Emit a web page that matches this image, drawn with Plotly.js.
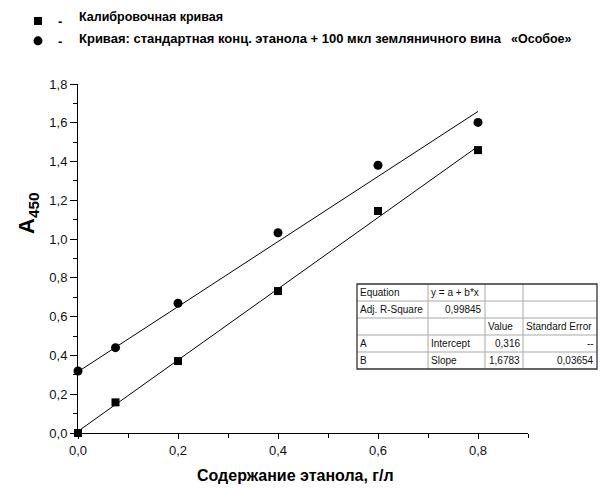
<!DOCTYPE html>
<html>
<head>
<meta charset="utf-8">
<script src="https://cdn.plot.ly/plotly-3.0.1.min.js"></script>
<style>html,body{margin:0;padding:0;background:#fff;}#chart{width:602px;height:488px;}</style>
</head>
<body>
<div id="chart"></div>
<script>
// ---- data ----
const calibX = [0, 0.075, 0.2, 0.4, 0.6, 0.8];
const calibY = [0.0, 0.158, 0.371, 0.732, 1.145, 1.459];
const wineX = [0, 0.075, 0.2, 0.4, 0.6, 0.8];
const wineY = [0.320, 0.440, 0.669, 1.033, 1.381, 1.602];
const wineIntercept = 0.316;
const wineSlope = 1.6783;
const legendNames = ["Калибровочная кривая", "Кривая: стандартная конц. этанола + 100 мкл земляничного вина"];
const legendSuffix = "«Особое»";
const xTitle = "Содержание этанола, г/л";
const yTitle = "A<sub>450</sub>";
const tableRows = [
  ["Equation", "y = a + b*x", "", ""],
  ["Adj. R-Square", "0,99845", "", ""],
  ["", "", "Value", "Standard Error"],
  ["A", "Intercept", "0,316", "--"],
  ["B", "Slope", "1,6783", "0,03654"]
];

// ---- layout geometry ----
const W = 602, H = 488, ML = 78, MR = 74, MT = 84, MB = 55;
const PW = W - ML - MR, PH = H - MT - MB;
const px = p => (p - ML) / PW;
const py = p => (H - MB - p) / PH;
const FONT = "Arial, 'Liberation Sans', sans-serif";

// least squares fit for calibration
function fit(xs, ys) {
  const n = xs.length;
  const mx = xs.reduce((a, b) => a + b, 0) / n;
  const my = ys.reduce((a, b) => a + b, 0) / n;
  let sxy = 0, sxx = 0;
  for (let i = 0; i < n; i++) { sxy += (xs[i] - mx) * (ys[i] - my); sxx += (xs[i] - mx) ** 2; }
  const b = sxy / sxx;
  return [my - b * mx, b];
}
const [cA, cB] = fit(calibX, calibY);
const lineX = [calibX[0], calibX[calibX.length - 1]];

const traces = [
  { x: lineX, y: lineX.map(v => cA + cB * v), mode: 'lines', line: { color: '#000', width: 1 }, showlegend: false, hoverinfo: 'skip' },
  { x: lineX, y: lineX.map(v => wineIntercept + wineSlope * v), mode: 'lines', line: { color: '#000', width: 1 }, showlegend: false, hoverinfo: 'skip' },
  { x: calibX, y: calibY, mode: 'markers', name: '<b>-</b>',
    marker: { symbol: 'square', size: 8, color: '#000' }, cliponaxis: false },
  { x: wineX, y: wineY, mode: 'markers', name: '<b>-</b>',
    marker: { symbol: 'circle', size: 9, color: '#000' }, cliponaxis: false }
];

// ---- table ----
const colEdges = [357, 428, 485, 523, 597];
const rowEdges = [284, 301, 318, 335, 352, 369];
const shapes = [];
const annotations = [];
shapes.push({ type: 'rect', xref: 'paper', yref: 'paper', x0: px(colEdges[0]), x1: px(colEdges[4]), y0: py(rowEdges[0]), y1: py(rowEdges[5]), fillcolor: '#fff', line: { width: 0 }, layer: 'above' });
for (let i = 1; i < rowEdges.length - 1; i++) {
  shapes.push({ type: 'line', xref: 'paper', yref: 'paper', x0: px(colEdges[0]), x1: px(colEdges[4]), y0: py(rowEdges[i]), y1: py(rowEdges[i]), line: { color: '#a8a8a8', width: 1 } });
}
for (let j = 1; j < colEdges.length - 1; j++) {
  shapes.push({ type: 'line', xref: 'paper', yref: 'paper', x0: px(colEdges[j]), x1: px(colEdges[j]), y0: py(rowEdges[0]), y1: py(rowEdges[5]), line: { color: '#a8a8a8', width: 1 } });
}
shapes.push({ type: 'rect', xref: 'paper', yref: 'paper', x0: px(colEdges[0]), x1: px(colEdges[4]), y0: py(rowEdges[0]), y1: py(rowEdges[5]), line: { color: '#333', width: 1.3 } });
tableRows.forEach((row, i) => {
  row.forEach((txt, j) => {
    if (!txt) return;
    const right = /^[\d,\-]+$/.test(txt);
    annotations.push({
      xref: 'paper', yref: 'paper', showarrow: false,
      x: right ? px(colEdges[j + 1] - 1) : px(colEdges[j] + 0.5),
      xanchor: right ? 'right' : 'left',
      y: py((rowEdges[i] + rowEdges[i + 1]) / 2), yanchor: 'middle',
      text: txt, font: { family: FONT, size: 10, color: '#111' }
    });
  });
});
// legend texts
annotations.push({ xref: 'paper', yref: 'paper', showarrow: false, x: px(77), y: py(16.5), xanchor: 'left', yanchor: 'middle',
  text: '<b>' + legendNames[0] + '</b>', font: { family: FONT, size: 12.5, color: '#000' } });
annotations.push({ xref: 'paper', yref: 'paper', showarrow: false, x: px(77), y: py(38), xanchor: 'left', yanchor: 'middle',
  text: '<b>' + legendNames[1] + '</b>', font: { family: FONT, size: 13, color: '#000' } });
annotations.push({ xref: 'paper', yref: 'paper', showarrow: false, x: px(509), y: py(39), xanchor: 'left', yanchor: 'middle',
  text: '<b>' + legendSuffix + '</b>', font: { family: FONT, size: 12.5, color: '#000' } });
// axis titles
annotations.push({ xref: 'paper', yref: 'paper', showarrow: false, x: px(28), y: py(213), xanchor: 'center', yanchor: 'middle',
  textangle: -90, text: '<b>' + yTitle + '</b>', font: { family: FONT, size: 22, color: '#000' } });
annotations.push({ xref: 'paper', yref: 'paper', showarrow: false, x: px(295), y: py(475), xanchor: 'center', yanchor: 'middle',
  text: '<b>' + xTitle + '</b>', font: { family: FONT, size: 16, color: '#000' } });

const layout = {
  width: W, height: H,
  margin: { l: ML, r: MR, t: MT, b: MB, pad: 0, autoexpand: false },
  paper_bgcolor: '#fff', plot_bgcolor: '#fff',
  separators: ', ',
  font: { family: FONT, color: '#111' },
  showlegend: true,
  legend: { xref: 'container', yref: 'container', x: 18 / W, xanchor: 'left', y: (H - 6) / H, yanchor: 'top', bgcolor: 'rgba(0,0,0,0)',
    font: { family: FONT, size: 13, color: '#000' }, itemwidth: 30, traceorder: 'normal' },
  xaxis: { range: [0, 0.9], showgrid: false, zeroline: false, showline: true, linecolor: '#000', linewidth: 1,
    ticks: 'outside', ticklen: 5, tickcolor: '#000', tickwidth: 1, dtick: 0.2, tick0: 0, tickformat: '.1f',
    minor: { dtick: 0.1, ticks: 'outside', ticklen: 4, tickcolor: '#000' },
    tickfont: { family: FONT, size: 13, color: '#111' }, fixedrange: true },
  yaxis: { range: [0, 1.8], showgrid: false, zeroline: false, showline: true, linecolor: '#000', linewidth: 1,
    ticks: 'outside', ticklen: 7, tickcolor: '#000', tickwidth: 1, dtick: 0.2, tick0: 0, tickformat: '.1f',
    minor: { dtick: 0.1, ticks: 'outside', ticklen: 4, tickcolor: '#000' },
    tickfont: { family: FONT, size: 13, color: '#111' }, fixedrange: true },
  shapes: shapes,
  annotations: annotations
};
Plotly.newPlot('chart', traces, layout, { displayModeBar: false, staticPlot: true });
</script>
</body>
</html>
